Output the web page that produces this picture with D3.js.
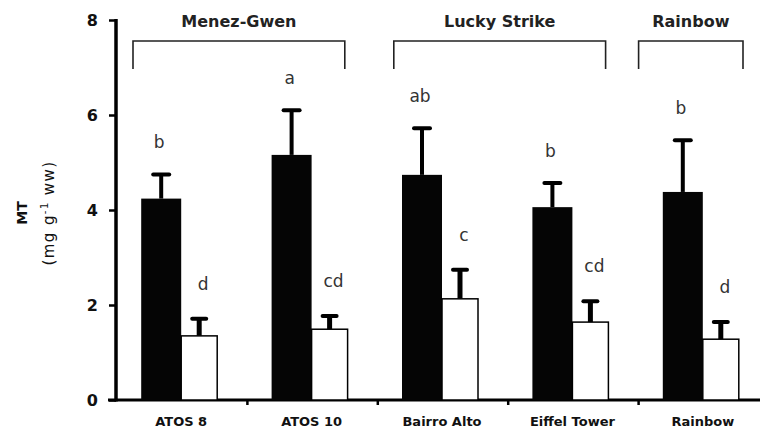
<!DOCTYPE html>
<html>
<head>
<meta charset="utf-8">
<script src="https://cdn.jsdelivr.net/npm/d3@7"></script>
<style>
  body { margin: 0; background: #fff; }
  text { font-family: "DejaVu Sans", sans-serif; }
</style>
</head>
<body>
<div id="chart"></div>
<script>
// values (MT, mg g-1 ww, mean + one error bar)
var categories = ["ATOS 8", "ATOS 10", "Bairro Alto", "Eiffel Tower", "Rainbow"];
var darkMeans = [4.24, 5.16, 4.74, 4.06, 4.38];
var darkErr = [0.51, 0.94, 0.98, 0.51, 1.09];
var lightMeans = [1.35, 1.49, 2.13, 1.64, 1.28];
var lightErr = [0.36, 0.28, 0.61, 0.44, 0.36];
var darkLetters = ["b", "a", "ab", "b", "b"];
var lightLetters = ["d", "cd", "c", "cd", "d"];
var groupNames = ["Menez-Gwen", "Lucky Strike", "Rainbow"];
var groupMembers = [["ATOS 8", "ATOS 10"], ["Bairro Alto", "Eiffel Tower"], ["Rainbow"]];
var yTicks = [0, 2, 4, 6, 8];

var width = 760, height = 431;

var svg = d3.select("#chart").append("svg")
    .attr("width", width)
    .attr("height", height);

var x = d3.scaleBand()
    .domain(categories)
    .range([117, 769]);

var y = d3.scaleLinear()
    .domain([0, 8])
    .range([400, 20]);

var bw = x.bandwidth();
var darkW = 40, lightW = 36;

// centre line between the two bars of one site
function mid(c) { return x(c) + bw / 2 - 1; }

// x axis line and boundary ticks
svg.append("line")
    .attr("x1", 108).attr("x2", width)
    .attr("y1", y(0)).attr("y2", y(0))
    .attr("stroke", "#000").attr("stroke-width", 3);

svg.selectAll(".bound")
    .data(categories.slice(1))
    .enter().append("line")
    .attr("x1", function(d){ return x(d); })
    .attr("x2", function(d){ return x(d); })
    .attr("y1", y(0)).attr("y2", y(0) + 5)
    .attr("stroke", "#000").attr("stroke-width", 2.5);

var xAxis = svg.append("g")
    .attr("transform", "translate(0," + y(0) + ")")
    .call(d3.axisBottom(x).tickSize(0).tickPadding(17));
xAxis.select(".domain").remove();
xAxis.selectAll("text")
    .style("font-family", "'DejaVu Sans', sans-serif")
    .style("font-size", "13px")
    .style("font-weight", "bold")
    .attr("transform", "translate(-1,0)")
    .attr("fill", "#111");

// y axis
var yAxis = svg.append("g")
    .attr("transform", "translate(116,0)")
    .call(d3.axisLeft(y).tickValues(yTicks).tickSize(7).tickSizeOuter(0).tickPadding(11));
yAxis.select(".domain")
    .attr("stroke-width", 3.5)
    .attr("d", "M0," + (y(8) - 1) + "V" + (y(0) + 1.5));
yAxis.selectAll(".tick line").attr("stroke-width", 2.5);
yAxis.selectAll("text")
    .style("font-family", "'DejaVu Sans', sans-serif")
    .style("font-size", "16px")
    .style("font-weight", "bold")
    .attr("fill", "#111");

// axis title
svg.append("text")
    .attr("transform", "translate(27,213) rotate(-90)")
    .attr("text-anchor", "middle")
    .style("font-size", "14px")
    .style("font-weight", "bold")
    .attr("fill", "#111")
    .text("MT");

var yl = svg.append("text")
    .attr("transform", "translate(54,213) rotate(-90)")
    .attr("text-anchor", "middle")
    .style("font-size", "15px")
    .style("letter-spacing", "1.4px")
    .attr("fill", "#111");
yl.append("tspan").text("(mg g");
yl.append("tspan").attr("dy", -6).style("font-size", "10px").text("-1");
yl.append("tspan").attr("dy", 6).text(" ww)");

// bars
var rows = categories.map(function(c, i){
    return {c: c, dm: darkMeans[i], de: darkErr[i], lm: lightMeans[i], le: lightErr[i],
            dl: darkLetters[i], ll: lightLetters[i]};
});

var site = svg.selectAll(".site")
    .data(rows)
    .enter().append("g")
    .attr("class", "site");

// error stems first so bars cover nothing below
site.append("line")
    .attr("x1", function(d){ return mid(d.c) - darkW / 2; })
    .attr("x2", function(d){ return mid(d.c) - darkW / 2; })
    .attr("y1", function(d){ return y(d.dm); })
    .attr("y2", function(d){ return y(d.dm + d.de); })
    .attr("stroke", "#000").attr("stroke-width", 4);

site.append("line")
    .attr("x1", function(d){ return mid(d.c) - darkW / 2 - 8; })
    .attr("x2", function(d){ return mid(d.c) - darkW / 2 + 8; })
    .attr("y1", function(d){ return y(d.dm + d.de); })
    .attr("y2", function(d){ return y(d.dm + d.de); })
    .attr("stroke", "#000").attr("stroke-width", 4).attr("stroke-linecap", "round");

site.append("line")
    .attr("x1", function(d){ return mid(d.c) + lightW / 2; })
    .attr("x2", function(d){ return mid(d.c) + lightW / 2; })
    .attr("y1", function(d){ return y(d.lm); })
    .attr("y2", function(d){ return y(d.lm + d.le); })
    .attr("stroke", "#000").attr("stroke-width", 5);

site.append("line")
    .attr("x1", function(d){ return mid(d.c) + lightW / 2 - 7; })
    .attr("x2", function(d){ return mid(d.c) + lightW / 2 + 7; })
    .attr("y1", function(d){ return y(d.lm + d.le); })
    .attr("y2", function(d){ return y(d.lm + d.le); })
    .attr("stroke", "#000").attr("stroke-width", 4).attr("stroke-linecap", "round");

site.append("rect")
    .attr("x", function(d){ return mid(d.c) - darkW; })
    .attr("y", function(d){ return y(d.dm); })
    .attr("width", darkW)
    .attr("height", function(d){ return y(0) - y(d.dm); })
    .attr("fill", "#050505");

site.append("rect")
    .attr("x", function(d){ return mid(d.c); })
    .attr("y", function(d){ return y(d.lm); })
    .attr("width", lightW)
    .attr("height", function(d){ return y(0) - y(d.lm); })
    .attr("fill", "#fff")
    .attr("stroke", "#000").attr("stroke-width", 1.5);

// significance letters
site.append("text")
    .attr("x", function(d){ return mid(d.c) - darkW / 2 - 2; })
    .attr("y", function(d){ return y(d.dm + d.de) - 26; })
    .attr("text-anchor", "middle")
    .style("font-size", "17px")
    .attr("fill", "#333")
    .text(function(d){ return d.dl; });

site.append("text")
    .attr("x", function(d){ return mid(d.c) + lightW / 2 + 4; })
    .attr("y", function(d){ return y(d.lm + d.le) - 29; })
    .attr("text-anchor", "middle")
    .style("font-size", "17px")
    .attr("fill", "#333")
    .text(function(d){ return d.ll; });

// site brackets
var groups = groupNames.map(function(n, i){
    var m = groupMembers[i];
    var single = m.length === 1;
    return {name: n,
            x0: x(m[0]) + (single ? 0 : 16),
            x1: x(m[m.length - 1]) + bw - (single ? 26 : 33)};
});

var br = svg.selectAll(".bracket")
    .data(groups)
    .enter().append("g")
    .attr("class", "bracket");

br.append("path")
    .attr("d", function(d){ return "M" + d.x0 + ",69V41H" + d.x1 + "V69"; })
    .attr("fill", "none")
    .attr("stroke", "#222").attr("stroke-width", 1.6);

br.append("text")
    .attr("x", function(d){ return (d.x0 + d.x1) / 2; })
    .attr("y", 27)
    .attr("text-anchor", "middle")
    .style("font-size", "16px")
    .style("font-weight", "bold")
    .attr("fill", "#222")
    .text(function(d){ return d.name; });
</script>
</body>
</html>
